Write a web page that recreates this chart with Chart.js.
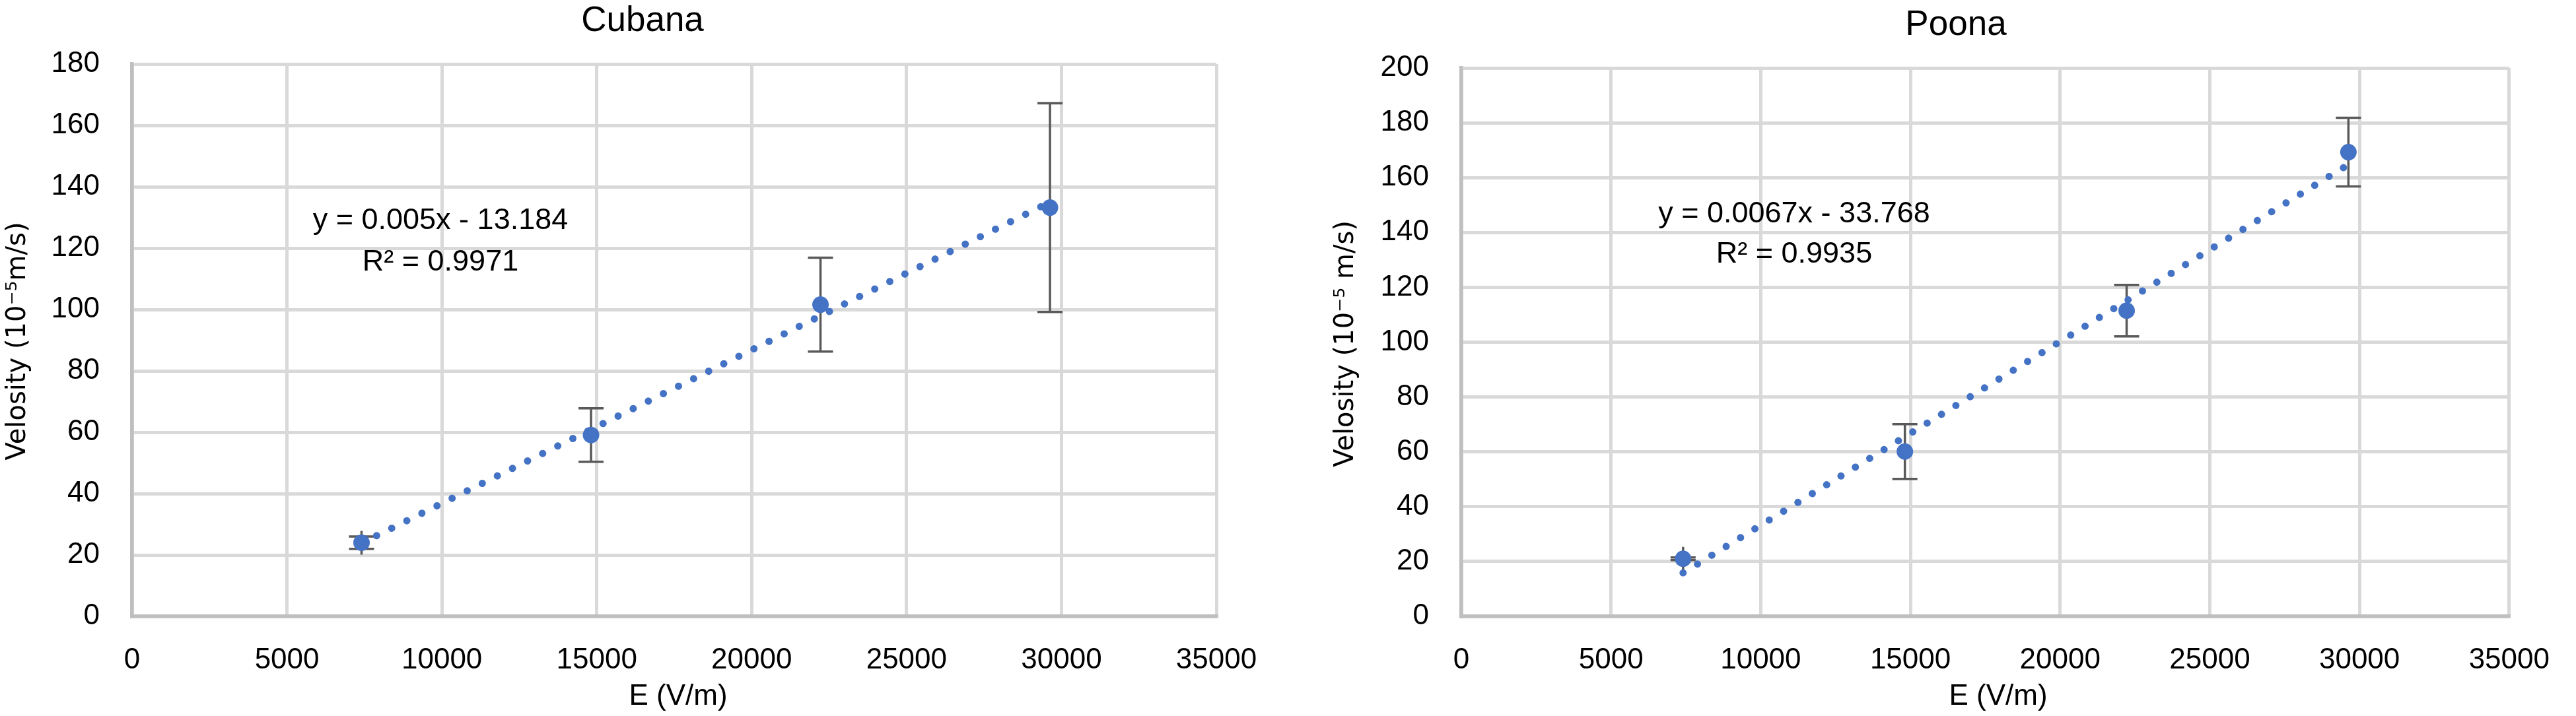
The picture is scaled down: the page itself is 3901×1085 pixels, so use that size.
<!DOCTYPE html>
<html>
<head>
<meta charset="utf-8">
<script src="https://cdn.jsdelivr.net/npm/chart.js@4.4.0/dist/chart.umd.min.js"></script>
<style>
  html, body { margin: 0; padding: 0; background: #fff; }
  #wrap { position: relative; width: 3901px; height: 1085px; }
  .box { position: absolute; top: 0; height: 1085px; }
</style>
</head>
<body>
<div id="wrap">
  <div class="box" style="left:0;width:1950px"><canvas id="cubana"></canvas></div>
  <div class="box" style="left:1950px;width:1951px"><canvas id="poona"></canvas></div>
</div>
<script>
// electric field, same for both samples (V/m)
const fieldE = [7407, 14815, 22222, 29630];
const fieldErr = [0, 0, 0, 0];

// Cubana velocities (10^-5 m/s) and their error bars
const cubanaV = [24.0, 59.1, 101.6, 133.2];
const cubanaErr = [2.0, 8.7, 15.3, 34.0];
const cubanaTrendE = [7407, 29630];
const cubanaTrendV = [23.85, 134.97];

// Poona velocities (10^-5 m/s) and their error bars
const poonaV = [21.0, 60.1, 111.5, 169.3];
const poonaErr = [0.5, 10.0, 9.4, 12.5];
const poonaTrendE = [7407, 29630];
const poonaTrendV = [15.86, 164.75];

const BLUE = '#4472C4';
const TICK_FONT = { family: 'Liberation Sans', size: 44 };

// error bars, drawn under the markers
const errorBars = {
  id: 'errorBars',
  beforeDatasetsDraw(chart, args, opts) {
    const { ctx, scales: { x, y } } = chart;
    ctx.save();
    ctx.strokeStyle = '#595959';
    ctx.lineWidth = 3.5;
    opts.v.forEach((v, i) => {
      const px = x.getPixelForValue(opts.e[i]);
      const py = y.getPixelForValue(v);
      const top = y.getPixelForValue(v + opts.err[i]);
      const bot = y.getPixelForValue(v - opts.err[i]);
      const xl = x.getPixelForValue(opts.e[i] - opts.eErr[i]);
      const xr = x.getPixelForValue(opts.e[i] + opts.eErr[i]);
      ctx.beginPath();
      // vertical bar + caps
      ctx.moveTo(px, top); ctx.lineTo(px, bot);
      ctx.moveTo(px - 19, top); ctx.lineTo(px + 19, top);
      ctx.moveTo(px - 19, bot); ctx.lineTo(px + 19, bot);
      // horizontal bar + caps
      ctx.moveTo(xl, py); ctx.lineTo(xr, py);
      ctx.moveTo(xl, py - 18); ctx.lineTo(xl, py + 18);
      ctx.moveTo(xr, py - 18); ctx.lineTo(xr, py + 18);
      ctx.stroke();
    });
    ctx.restore();
  }
};

// titles, axis titles and trendline labels
const texts = {
  id: 'texts',
  afterDraw(chart, args, o) {
    const { ctx, scales: { x, y } } = chart;
    ctx.save();
    ctx.fillStyle = '#000';
    ctx.textAlign = 'center';
    ctx.textBaseline = 'middle';

    ctx.font = '53px "Liberation Sans"';
    ctx.fillText(o.title, o.titleX, o.titleY);

    ctx.font = '44px "Liberation Sans"';
    ctx.fillText('E (V/m)', o.xTitleX, o.xTitleY);

    ctx.font = '45px "Liberation Sans"';
    const ex = x.getPixelForValue(o.eqE);
    ctx.fillText(o.eq, ex, y.getPixelForValue(o.eqV));
    ctx.fillText(o.r2, ex, y.getPixelForValue(o.r2V));

    ctx.translate(o.yTitleX, o.yTitleY);
    ctx.rotate(-Math.PI / 2);
    ctx.font = '40px "DejaVu Sans"';
    ctx.fillText(o.yTitle, 0, 0);
    ctx.restore();
  }
};

function makeChart(id, cfg) {
  const pts = fieldE.map((e, i) => ({ x: e, y: cfg.v[i] }));
  const trend = cfg.trendE.map((e, i) => ({ x: e, y: cfg.trendV[i] }));
  return new Chart(document.getElementById(id), {
    type: 'scatter',
    data: {
      datasets: [
        {
          data: pts,
          order: 0,
          pointRadius: 12.5,
          pointBackgroundColor: BLUE,
          pointBorderWidth: 0
        },
        {
          data: trend,
          order: 1,
          showLine: true,
          pointRadius: 0,
          borderColor: BLUE,
          borderWidth: 11,
          borderCapStyle: 'round',
          borderDash: [0.01, 25.5]
        }
      ]
    },
    options: {
      responsive: true,
      maintainAspectRatio: false,
      animation: false,
      events: [],
      layout: { padding: { top: cfg.top, right: cfg.right, left: 0, bottom: 0 }, autoPadding: false },
      plugins: {
        legend: { display: false },
        tooltip: { enabled: false },
        errorBars: { e: fieldE, eErr: fieldErr, v: cfg.v, err: cfg.err },
        texts: cfg.texts
      },
      scales: {
        x: {
          type: 'linear',
          min: 0, max: 35000,
          afterFit: s => { s.height = 1085 - 934; },
          ticks: { stepSize: 5000, font: TICK_FONT, color: '#000', padding: 40, maxRotation: 0,
                   callback: v => String(v) },
          grid: { color: '#D9D9D9', lineWidth: 5, drawTicks: false },
          border: { color: '#BFBFBF', width: 5.5 }
        },
        y: {
          min: 0, max: cfg.yMax,
          afterFit: s => { s.width = cfg.left; },
          ticks: { stepSize: 20, font: TICK_FONT, color: '#000', padding: 49,
                   callback: v => String(v) },
          grid: { color: '#D9D9D9', lineWidth: 5, drawTicks: false },
          border: { color: '#BFBFBF', width: 5.5 }
        }
      }
    },
    plugins: [errorBars, texts]
  });
}

makeChart('cubana', {
  v: cubanaV, err: cubanaErr, trendE: cubanaTrendE, trendV: cubanaTrendV,
  yMax: 180, top: 97, right: 1950 - 1842, left: 200,
  texts: {
    title: 'Cubana', titleX: 973, titleY: 32,
    xTitleX: 1027, xTitleY: 1056,
    yTitle: 'Velosity (10\u207B\u2075m/s)', yTitleX: 28, yTitleY: 517,
    eq: 'y = 0.005x - 13.184', r2: 'R\u00B2 = 0.9971',
    eqE: 9954, eqV: 128.8, r2V: 115.3
  }
});

makeChart('poona', {
  v: poonaV, err: poonaErr, trendE: poonaTrendE, trendV: poonaTrendV,
  yMax: 200, top: 103, right: 1951 - 1883, left: 263,
  texts: {
    title: 'Poona', titleX: 1012, titleY: 38,
    xTitleX: 1076, xTitleY: 1056,
    yTitle: 'Velosity (10\u207B\u2075 m/s)', yTitleX: 89, yTitleY: 521,
    eq: 'y = 0.0067x - 33.768', r2: 'R\u00B2 = 0.9935',
    eqE: 11116, eqV: 146.6, r2V: 132.1
  }
});
</script>
</body>
</html>
